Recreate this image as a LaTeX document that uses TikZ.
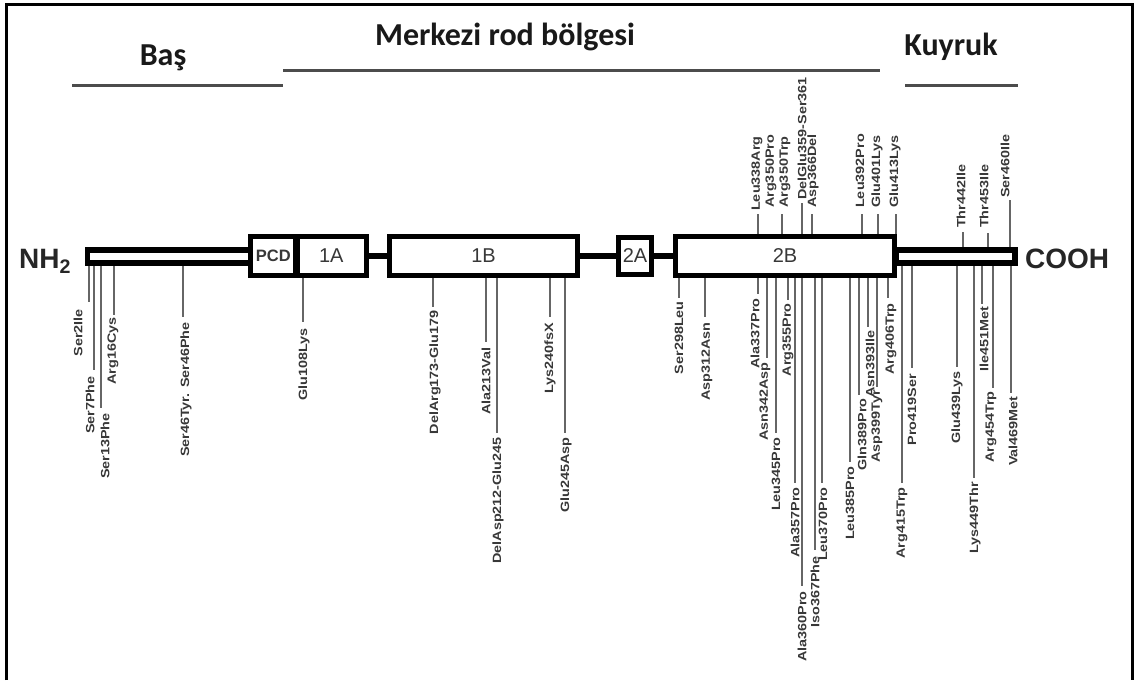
\documentclass[tikz,border=0pt]{standalone}
\usepackage{fontspec}
\usepackage{graphicx}
\setmainfont{Liberation Sans}
\newfontfamily\headfont{Carlito}
\newcommand\mlab[1]{\scalebox{1.2}[1]{\fontsize{12}{12}\selectfont\bfseries #1}}
\newcommand\mdown[7]{\draw[mline] (#2,#3) -- (#2,#4); \node[lbot] (#1) at (#5,#6) {\mlab{#7}};}
\newcommand\mup[7]{\draw[mline] (#2,#3) -- (#2,#4); \node[ltop] (#1) at (#5,#6) {\mlab{#7}};}
\newcommand\mtoponly[4]{\node[ltop] (#1) at (#2,#3) {\mlab{#4}};}
\tikzset{
  mline/.style={draw=black!60, line width=1.5pt},
  lbot/.style={rotate=90, anchor=east, inner sep=0pt, text=black!78},
  ltop/.style={rotate=90, anchor=west, inner sep=0pt, text=black!78},
  hline/.style={draw=black!70, line width=3pt},
  head/.style={font=\headfont\bfseries\fontsize{32}{32}\selectfont, inner sep=0pt, anchor=base, text=black!90},
  term/.style={font=\bfseries\fontsize{28}{28}\selectfont, inner sep=0pt, anchor=base west, text=black!85},
  box/.style={draw=black, line width=5pt, fill=white, inner sep=0pt, minimum height=39pt, text=black!78, font=\fontsize{20}{20}\selectfont},
  conn/.style={line width=6pt, draw=black}
}
\begin{document}
\begin{tikzpicture}[x=1pt,y=-1pt]
\useasboundingbox (0,0) rectangle (1137,680);
% frame
\draw[line width=3pt] (6,680) -- (6,4) -- (1132,4) -- (1132,680);
% headings
\node[head] (bas) at (163,65) {Baş};
\node[head] (rod) at (505,45) {Merkezi rod bölgesi};
\node[head] (kuy) at (951,55) {Kuyruk};
\draw[hline] (72,85) -- (283,85);
\draw[hline] (283,70) -- (880,70);
\draw[hline] (905,85) -- (1018,85);
% terminals
\node[term] (nh) at (19,268) {NH\textsubscript{2}};
\node[term] (cooh) at (1025,268) {COOH};
% head bar and tail bar
\fill[black] (85,247) rectangle (252,266);
\fill[white] (90,253) rectangle (252,259.5);
\fill[black] (893,247) rectangle (1018,266);
\fill[white] (899,253) rectangle (1012,260);
% domains
\node[box, minimum width=45.5pt, font=\bfseries\fontsize{16.5}{16.5}\selectfont] (pcd) at (273.25,256) {PCD};
\node[box, minimum width=70.5pt] (a1) at (331.25,256) {1A};
\draw[line width=7pt] (296,235) -- (296,277);
\node[box, minimum width=188pt] (b1) at (483.5,256) {1B};
\node[box, minimum width=33pt, minimum height=37pt] (a2) at (635,256) {2A};
\node[box, minimum width=219pt] (b2) at (785,256) {2B};
\draw[conn] (a1.east) -- (b1.west);
\draw[conn] (b1.east) -- (a2.west);
\draw[conn] (a2.east) -- (b2.west);
% mutations below
\mdown{m1}{89}{266}{302}{78}{309}{Ser2Ile}
\mdown{m2}{94}{266}{370}{90}{376}{Ser7Phe}
\mdown{m3}{101}{266}{408}{105}{413}{Ser13Phe}
\mdown{m4}{114}{266}{315}{113}{317}{Arg16Cys}
\mdown{m5}{183}{266}{317}{186}{322}{Ser46Tyr. Ser46Phe}
\mdown{m6}{303}{278}{322}{304}{328}{Glu108Lys}
\mdown{m7}{433}{278}{307}{435}{310}{DelArg173-Glu179}
\mdown{m8}{486}{278}{342}{486}{347}{Ala213Val}
\mdown{m9}{497}{278}{433}{498}{437}{DelAsp212-Glu245}
\mdown{m10}{550}{278}{317}{550}{323}{Lys240fsX}
\mdown{m11}{565}{278}{433}{566}{437}{Glu245Asp}
\mdown{m12}{679}{278}{298}{679}{301}{Ser298Leu}
\mdown{m13}{705}{278}{317}{707}{322}{Asp312Asn}
\mdown{m14}{758}{278}{294}{755}{298}{Ala337Pro}
\mdown{m15}{767}{278}{358}{765}{362}{Asn342Asp}
\mdown{m16}{776}{278}{433}{776}{437}{Leu345Pro}
\mdown{m17}{788}{278}{300}{788}{303}{Arg355Pro}
\mdown{m18}{795}{278}{483}{795}{487}{Ala357Pro}
\mdown{m19}{802}{278}{586}{802}{591}{Ala360Pro}
\mdown{m20}{815}{278}{550}{815}{556}{Iso367Phe}
\mdown{m21}{822}{278}{483}{823}{487}{Leu370Pro}
\mdown{m22}{850}{278}{462}{850}{466}{Leu385Pro}
\mdown{m23}{859}{278}{395}{862}{398}{Gln389Pro}
\mdown{m24}{868}{278}{327}{870}{330}{Asn393Ile}
\mdown{m25}{877}{278}{387}{877}{390}{Asp399Tyr}
\mdown{m26}{888}{278}{298}{891}{303}{Arg406Trp}
\mdown{m27}{902}{266}{483}{902}{487}{Arg415Trp}
\mdown{m28}{912}{266}{368}{912}{374}{Pro419Ser}
\mdown{m29}{957}{266}{367}{957}{371}{Glu439Lys}
\mdown{m30}{974}{266}{478}{975}{482}{Lys449Thr}
\mdown{m31}{982}{266}{304}{984}{306}{Ile451Met}
\mdown{m32}{993}{266}{388}{991}{391}{Arg454Trp}
\mdown{m33}{1011}{266}{393}{1013}{396}{Val469Met}
% mutations above
\mup{t1}{758}{234}{214}{757}{211}{Leu338Arg}
\mup{t2}{782}{234}{214}{771}{208}{Arg350Pro}
\mtoponly{t3}{785}{208}{Arg350Trp}
\mup{t4}{802}{234}{203}{802}{200}{DelGlu359-Ser361}
\mup{t5}{812}{234}{214}{813}{208}{Asp366Del}
\mup{t6}{862}{234}{214}{860}{208}{Leu392Pro}
\mup{t7}{878}{234}{214}{877}{208}{Glu401Lys}
\mup{t8}{896}{234}{214}{895}{208}{Glu413Lys}
\mup{t9}{963}{247}{232}{961}{228}{Thr442Ile}
\mup{t10}{988}{247}{233}{984}{228}{Thr453Ile}
\mup{t11}{1010}{247}{200}{1005}{198}{Ser460Ile}
\end{tikzpicture}
\end{document}
